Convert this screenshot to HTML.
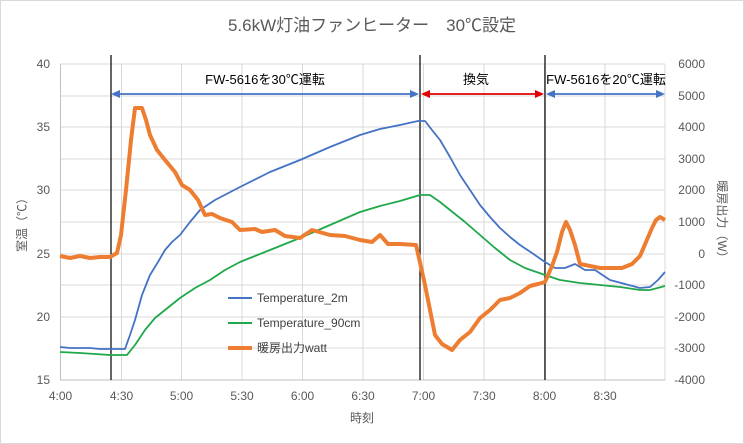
<!DOCTYPE html>
<html><head><meta charset="utf-8"><style>
body{margin:0;background:#fff}
svg{display:block;font-family:"Liberation Sans","Noto Sans CJK JP",sans-serif}
</style></head><body>
<svg width="744" height="444" viewBox="0 0 744 444">
<rect x="0.5" y="0.5" width="743" height="443" fill="#fff" stroke="#d9d9d9"/>
<text x="372" y="31" font-size="17" fill="#595959" text-anchor="middle">5.6kW灯油ファンヒーター　30℃設定</text>
<g stroke="#d9d9d9" stroke-width="1">
<line x1="60" y1="64" x2="665" y2="64"/><line x1="60" y1="96" x2="665" y2="96"/><line x1="60" y1="127" x2="665" y2="127"/><line x1="60" y1="159" x2="665" y2="159"/><line x1="60" y1="190" x2="665" y2="190"/><line x1="60" y1="222" x2="665" y2="222"/><line x1="60" y1="254" x2="665" y2="254"/><line x1="60" y1="285" x2="665" y2="285"/><line x1="60" y1="317" x2="665" y2="317"/><line x1="60" y1="348" x2="665" y2="348"/>
<line x1="121.5" y1="64" x2="121.5" y2="380"/><line x1="181.5" y1="64" x2="181.5" y2="380"/><line x1="242" y1="64" x2="242" y2="380"/><line x1="302.5" y1="64" x2="302.5" y2="380"/><line x1="363" y1="64" x2="363" y2="380"/><line x1="423.5" y1="64" x2="423.5" y2="380"/><line x1="484" y1="64" x2="484" y2="380"/><line x1="544.5" y1="64" x2="544.5" y2="380"/><line x1="605" y1="64" x2="605" y2="380"/><line x1="665" y1="64" x2="665" y2="380"/>
</g>
<line x1="60.5" y1="64" x2="60.5" y2="380" stroke="#bfbfbf"/>
<line x1="60" y1="380" x2="665" y2="380" stroke="#bfbfbf"/>
<g font-size="12" fill="#595959">
<g text-anchor="end"><text x="50" y="68">40</text><text x="50" y="131">35</text><text x="50" y="194">30</text><text x="50" y="258">25</text><text x="50" y="321">20</text><text x="50" y="384">15</text></g>
<g text-anchor="end"><text x="705" y="68">6000</text><text x="705" y="100">5000</text><text x="705" y="131">4000</text><text x="705" y="163">3000</text><text x="705" y="194">2000</text><text x="705" y="226">1000</text><text x="705" y="258">0</text><text x="705" y="289">-1000</text><text x="705" y="321">-2000</text><text x="705" y="352">-3000</text><text x="705" y="384">-4000</text></g>
<g text-anchor="middle"><text x="60.5" y="400">4:00</text><text x="121.5" y="400">4:30</text><text x="181.5" y="400">5:00</text><text x="242" y="400">5:30</text><text x="302.5" y="400">6:00</text><text x="363" y="400">6:30</text><text x="423.5" y="400">7:00</text><text x="484" y="400">7:30</text><text x="544.5" y="400">8:00</text><text x="605" y="400">8:30</text></g>
<text x="362" y="422" text-anchor="middle">時刻</text>
<text transform="translate(26,222) rotate(-90)" text-anchor="middle">室温（℃）</text>
<text transform="translate(718,222) rotate(90)" text-anchor="middle">暖房出力（W）</text>
</g>
<g stroke="#000" stroke-width="1.2"><line x1="111" y1="55" x2="111" y2="380"/><line x1="420" y1="55" x2="420" y2="380"/><line x1="545" y1="55" x2="545" y2="380"/></g>
<g fill="none" stroke-linejoin="round">
<polyline stroke="#4472c4" stroke-width="1.8" points="60,347 70,348 90,348 100,349 125,349 130,335 135,320 142,295 150,275 158,262 165,250 172,242 180,235 190,222 200,210 215,200 240,187 270,172 300,160 330,147 360,135 380,129 400,125 418,121 425,121 432,130 440,140 450,157 460,175 470,190 480,205 490,217 500,228 510,237 520,245 532,253 545,262 555,268 565,268 575,264 585,270 595,270 610,280 625,284 640,288 650,287 658,280 665,272"/>
<polyline stroke="#1fa84a" stroke-width="1.8" points="60,352 80,353 95,354 110,355 127,355 135,345 145,330 155,318 170,306 180,298 195,288 210,280 225,270 240,262 270,250 300,238 330,225 360,212 380,206 400,201 410,198 420,195 430,195 440,202 450,210 465,222 480,235 495,248 510,260 525,268 545,275 560,280 580,283 600,285 620,287 640,290 650,290 665,286"/>
<polyline stroke="#ed7d31" stroke-width="4" points="60,256 70,258 80,256 90,258 100,257 110,257 117,253 121,235 126,190 131,140 135,108 142,108 146,120 150,135 157,150 165,160 175,172 182,185 190,190 198,200 205,215 212,214 220,218 232,222 240,230 255,229 262,232 275,230 285,236 300,238 312,230 330,235 345,236 360,240 372,242 380,235 388,244 400,244 416,245 419,258 425,285 430,310 435,335 442,344 452,350 460,340 470,332 480,318 490,310 500,300 510,298 520,293 530,286 538,284 545,282 552,266 557,252 562,232 566,222 570,230 575,245 580,264 590,266 600,268 612,268 622,268 632,264 640,256 646,242 652,228 656,220 660,217 665,220"/>
</g>
<g stroke-width="1.8">
<line x1="115" y1="94" x2="415" y2="94" stroke="#4472c4"/>
<polygon points="111,94 120,90 120,98" fill="#4472c4"/><polygon points="419,94 410,90 410,98" fill="#4472c4"/>
<line x1="424" y1="94" x2="541" y2="94" stroke="#e00000"/>
<polygon points="421,94 430,90 430,98" fill="#e00000"/><polygon points="544,94 535,90 535,98" fill="#e00000"/>
<line x1="549" y1="94" x2="661" y2="94" stroke="#4472c4"/>
<polygon points="546,94 555,90 555,98" fill="#4472c4"/><polygon points="665,94 656,90 656,98" fill="#4472c4"/>
</g>
<g font-size="13" fill="#000" text-anchor="middle">
<text x="265" y="84">FW-5616を30℃運転</text>
<text x="476" y="84">換気</text>
<text x="606" y="84">FW-5616を20℃運転</text>
</g>
<g font-size="12" fill="#404040">
<line x1="228" y1="298" x2="252" y2="298" stroke="#4472c4" stroke-width="2"/><text x="257" y="302">Temperature_2m</text>
<line x1="228" y1="323" x2="252" y2="323" stroke="#1fa84a" stroke-width="2"/><text x="257" y="327">Temperature_90cm</text>
<line x1="228" y1="348" x2="252" y2="348" stroke="#ed7d31" stroke-width="4"/><text x="257" y="352">暖房出力watt</text>
</g>
</svg>
</body></html>
